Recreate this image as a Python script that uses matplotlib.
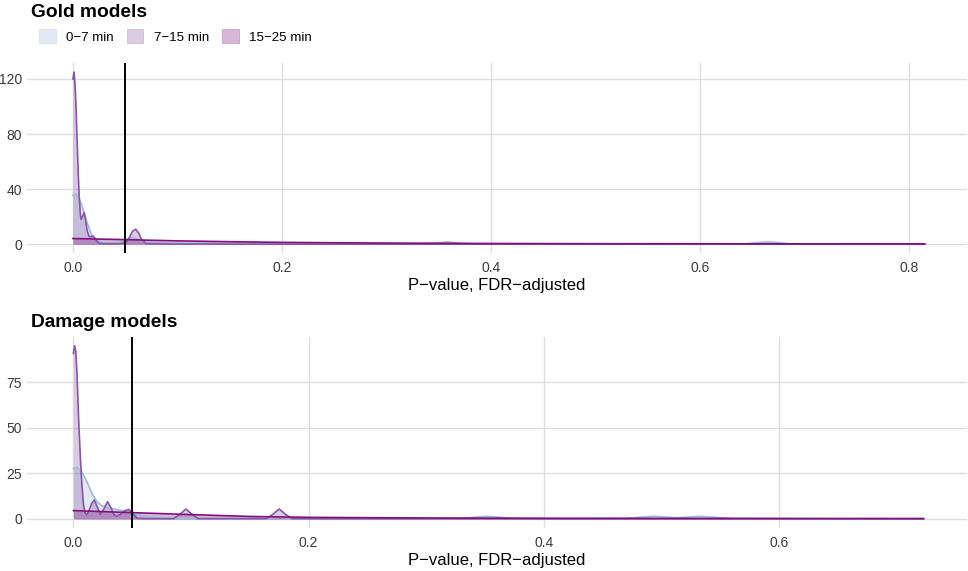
import matplotlib
matplotlib.use("Agg")
import matplotlib.pyplot as plt
from matplotlib.patches import Patch

plt.rcParams['font.family'] = ['Liberation Sans', 'DejaVu Sans']

# ---------------- data ----------------
groups = ["0\u22127 min", "7\u221215 min", "15\u221225 min"]
colors = ["#9ebcda", "#8856a7", "#810f7c"]
threshold = 0.05

# Gold models – density curves
gold_x_07 = [0, 0.003, 0.006, 0.0086, 0.011, 0.0134, 0.016, 0.018, 0.021, 0.023, 0.027, 0.031,
             0.038, 0.045, 0.05, 0.056, 0.061, 0.066, 0.075, 0.09, 0.12, 0.16, 0.2, 0.25, 0.3,
             0.335, 0.348, 0.358, 0.368, 0.381, 0.42, 0.5, 0.6, 0.642, 0.655, 0.665, 0.675,
             0.688, 0.74, 0.815]
gold_y_07 = [35.5, 36.7, 33, 28, 22, 16, 10.5, 6.5, 4.2, 2.9, 1.8, 1.2,
             1.0, 1.5, 3.0, 5.0, 4.0, 2.2, 1.2, 0.8, 0.6, 0.5, 0.4, 0.3, 0.25,
             0.3, 1.0, 1.8, 1.0, 0.3, 0.2, 0.15, 0.15, 0.3, 1.2, 1.8, 1.2,
             0.3, 0.1, 0.05]
gold_x_715 = [0, 0.001, 0.002, 0.003, 0.004, 0.005, 0.006, 0.007, 0.0078, 0.009, 0.0107, 0.012,
              0.0135, 0.0155, 0.0175, 0.0195, 0.022, 0.025, 0.03, 0.045, 0.051, 0.054, 0.057,
              0.060, 0.063, 0.066, 0.07, 0.1, 0.2, 0.4, 0.6, 0.815]
gold_y_715 = [120, 125, 116, 98, 74, 52, 34, 22, 18, 20, 23, 18,
              10, 5.5, 5.5, 6, 3, 0.8, 0.4, 0.4, 1.5, 5, 9.5,
              10.9, 8, 3, 0.5, 0.2, 0.1, 0.1, 0.1, 0.1]
gold_x_1525 = [0, 0.05, 0.1, 0.15, 0.2, 0.3, 0.4, 0.5, 0.6, 0.7, 0.815]
gold_y_1525 = [4.2, 3.4, 2.5, 1.9, 1.4, 0.9, 0.6, 0.45, 0.4, 0.35, 0.3]

# Damage models – density curves
dmg_x_07 = [0, 0.003, 0.0072, 0.0115, 0.0157, 0.020, 0.024, 0.03, 0.038, 0.047, 0.055, 0.065,
            0.08, 0.1, 0.13, 0.165, 0.175, 0.185, 0.2, 0.25, 0.3, 0.33, 0.342, 0.352, 0.362,
            0.375, 0.42, 0.47, 0.482, 0.494, 0.505, 0.513, 0.522, 0.533, 0.544, 0.56, 0.62, 0.723]
dmg_y_07 = [27.8, 28.4, 26, 20.5, 14.1, 9.5, 7.3, 6, 5, 4, 2.2, 1.2,
            0.6, 0.4, 0.3, 0.3, 1.2, 0.3, 0.3, 0.2, 0.15, 0.3, 1.0, 1.5, 1.0,
            0.3, 0.1, 0.3, 1.0, 1.5, 1.0, 0.7, 1.0, 1.5, 1.0, 0.3, 0.1, 0.05]
dmg_x_715 = [0, 0.001, 0.002, 0.003, 0.0044, 0.006, 0.0072, 0.0085, 0.010, 0.0115, 0.0135,
             0.0155, 0.0177, 0.020, 0.0228, 0.0255, 0.029, 0.032, 0.0345, 0.037, 0.040, 0.0435,
             0.047, 0.0505, 0.054, 0.06, 0.085, 0.0905, 0.0957, 0.101, 0.106, 0.12, 0.164,
             0.1695, 0.175, 0.1805, 0.186, 0.2, 0.4, 0.723]
dmg_y_715 = [91, 95.2, 92, 80, 55, 32, 18.7, 8, 3.1, 2.5, 5,
             8.5, 10.4, 7, 2.6, 5, 9.5, 6, 2.2, 1.6, 2.5, 4.5,
             5.3, 3, 0.4, 0.2, 0.2, 2.5, 5.5, 2.5, 0.2, 0.2, 0.2,
             2.5, 5.5, 2.5, 0.2, 0.2, 0.1, 0.1]
dmg_x_1525 = [0, 0.05, 0.1, 0.15, 0.2, 0.3, 0.4, 0.5, 0.6, 0.723]
dmg_y_1525 = [4.6, 3.5, 2.4, 1.4, 0.9, 0.55, 0.4, 0.35, 0.3, 0.25]

gold_xticks = [0.0, 0.2, 0.4, 0.6, 0.8]
gold_yticks = [0, 40, 80, 120]
dmg_xticks = [0.0, 0.2, 0.4, 0.6]
dmg_yticks = [0, 25, 50, 75]
xlabel = "P\u2212value, FDR\u2212adjusted"

# ---------------- layout ----------------
W, H = 968, 571
fig = plt.figure(figsize=(W / 100, H / 100), dpi=100)


def rect(l, t, r, b):
    return [l / W, 1 - b / H, (r - l) / W, (b - t) / H]


def panel(ax, series, xticks, yticks, xlim, ylim):
    for (xs, ys), c in zip(series, colors):
        ax.fill_between(xs, 0, ys, color=c, alpha=0.3, lw=0, zorder=2)
        ax.plot(xs, ys, color=c, lw=1.2, zorder=3, solid_joinstyle='round')
    ax.axvline(threshold, color='black', lw=1.4, zorder=4)
    ax.set_xlim(*xlim)
    ax.set_ylim(*ylim)
    ax.set_xticks(xticks)
    ax.set_xticklabels([f"{v:.1f}" for v in xticks])
    ax.set_yticks(yticks)
    ax.set_yticklabels([str(v) for v in yticks])
    ax.grid(True, color='#dedede', lw=1.0, zorder=0)
    ax.set_axisbelow(True)
    for s in ax.spines.values():
        s.set_visible(False)
    ax.tick_params(axis='both', length=0, labelsize=10, labelcolor='#3a3a3a')
    ax.tick_params(axis='x', pad=5.5)
    ax.tick_params(axis='y', pad=3.6)
    ax.set_xlabel(xlabel, fontsize=12, color='black', labelpad=2.5)


ax1 = fig.add_axes(rect(27, 63, 967, 253))
panel(ax1,
      [(gold_x_07, gold_y_07), (gold_x_715, gold_y_715), (gold_x_1525, gold_y_1525)],
      gold_xticks, gold_yticks, (-0.044, 0.8555), (-6.3, 131.6))

ax2 = fig.add_axes(rect(27, 337, 967, 528))
panel(ax2,
      [(dmg_x_07, dmg_y_07), (dmg_x_715, dmg_y_715), (dmg_x_1525, dmg_y_1525)],
      dmg_xticks, dmg_yticks, (-0.0395, 0.76), (-4.95, 100))

fig.text(31 / W, 1 - 17 / H, "Gold models", fontsize=13.8, fontweight='bold', ha='left', va='baseline')
fig.text(31 / W, 1 - 327 / H, "Damage models", fontsize=13.8, fontweight='bold', ha='left', va='baseline')

handles = [Patch(facecolor=c, alpha=0.3, edgecolor=c, lw=0.6) for c in colors]
fig.legend(handles, groups, loc='upper left', bbox_to_anchor=(39 / W, 1 - 29 / H),
           ncol=3, frameon=False, fontsize=9.6, borderpad=0, borderaxespad=0,
           handlelength=1.25, handleheight=1.25, handletextpad=0.8, columnspacing=0.95)

fig.savefig("out.png", dpi=100)
